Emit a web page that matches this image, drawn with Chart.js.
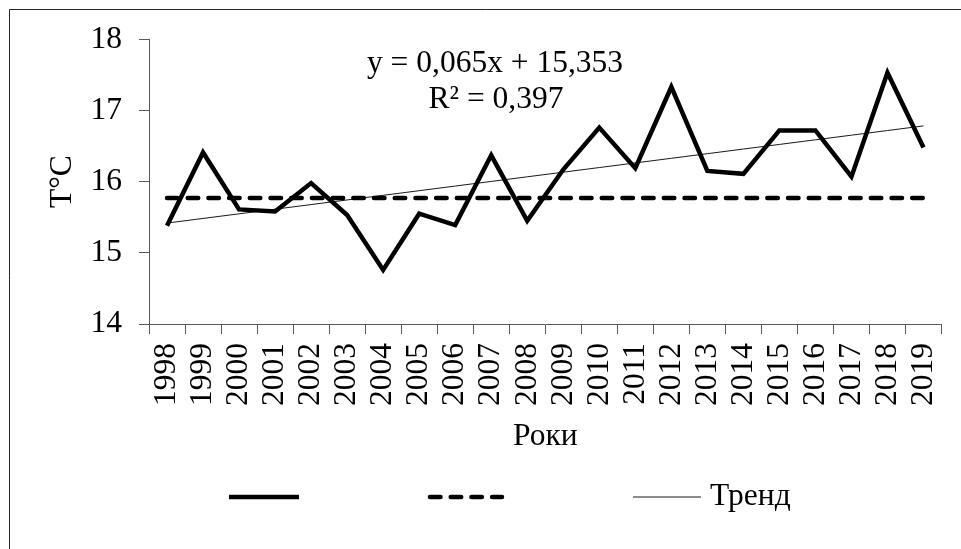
<!DOCTYPE html>
<html>
<head>
<meta charset="utf-8">
<script src="https://cdn.jsdelivr.net/npm/chart.js@4.4.1/dist/chart.umd.min.js"></script>
<style>
  html, body { margin: 0; padding: 0; background: #fff; }
  canvas { display: block; }
</style>
</head>
<body>
<canvas id="chart" width="961" height="549"></canvas>
<script>
// Annual mean air temperature, 1998–2019
const years = ['1998', '1999', '2000', '2001', '2002', '2003', '2004', '2005', '2006', '2007', '2008',
               '2009', '2010', '2011', '2012', '2013', '2014', '2015', '2016', '2017', '2018', '2019'];
const temperature = [15.38, 16.41, 15.61, 15.58, 15.98, 15.53, 14.76, 15.55, 15.39, 16.37, 15.45,
                     16.17, 16.76, 16.19, 17.33, 16.15, 16.11, 16.72, 16.72, 16.07, 17.53, 16.48];
// Climatic norm
const climateNorm = [15.77, 15.77, 15.77, 15.77, 15.77, 15.77, 15.77, 15.77, 15.77, 15.77, 15.77,
                     15.77, 15.77, 15.77, 15.77, 15.77, 15.77, 15.77, 15.77, 15.77, 15.77, 15.77];
// Linear trend coefficients (x = 1 for the first year)
const trendSlope = 0.065;
const trendIntercept = 15.353;
const trendR2 = 0.397;
const yMin = 14;
const yMax = 18;

const trend = years.map((_, i) => trendIntercept + trendSlope * (i + 1));
const fmt = (v, d) => v.toFixed(d).replace('.', ',');

const FONT = '"Liberation Serif", "Times New Roman", serif';
const AXIS = '#595959';
const SIZE = 31.5;

// White background and the frame lines of the chart box
const framePlugin = {
  id: 'frame',
  beforeDraw(chart) {
    const ctx = chart.ctx;
    ctx.save();
    ctx.fillStyle = '#fff';
    ctx.fillRect(0, 0, chart.width, chart.height);
    ctx.strokeStyle = '#262626';
    ctx.lineWidth = 1;
    ctx.beginPath();
    ctx.moveTo(9.5, chart.height);
    ctx.lineTo(9.5, 9.5);
    ctx.lineTo(chart.width, 9.5);
    ctx.stroke();
    ctx.restore();
  }
};

// Trend equation and the bottom legend
const notesPlugin = {
  id: 'notes',
  afterDraw(chart) {
    const ctx = chart.ctx;
    ctx.save();
    ctx.fillStyle = '#000';
    ctx.font = SIZE + 'px ' + FONT;
    ctx.textAlign = 'center';
    ctx.textBaseline = 'middle';
    ctx.fillText('y = ' + fmt(trendSlope, 3) + 'x + ' + fmt(trendIntercept, 3), 495, 64);
    ctx.fillText('R\u00B2 = ' + fmt(trendR2, 3), 496, 100);

    const rowY = 497;
    const spans = [[229, 299], [430, 502], [633, 701]];
    chart.data.datasets.forEach((ds, i) => {
      const [x0, x1] = spans[i];
      ctx.save();
      ctx.strokeStyle = ds.borderColor;
      ctx.lineWidth = ds.borderWidth;
      ctx.lineCap = ds.borderCapStyle || 'butt';
      ctx.setLineDash(ds.borderDash || []);
      ctx.beginPath();
      ctx.moveTo(x0, rowY);
      ctx.lineTo(x1, rowY);
      ctx.stroke();
      ctx.restore();
      if (ds.label) {
        ctx.textAlign = 'left';
        ctx.fillText(ds.label, x1 + 9, rowY);
      }
    });
    ctx.restore();
  }
};

new Chart(document.getElementById('chart'), {
  type: 'line',
  data: {
    labels: years,
    datasets: [
      {
        label: '',
        data: temperature,
        borderColor: '#000',
        borderWidth: 4.5,
        borderCapStyle: 'butt',
        pointRadius: 0,
        tension: 0,
        fill: false
      },
      {
        label: '',
        data: climateNorm,
        borderColor: '#000',
        borderWidth: 4.5,
        borderDash: [10.5, 10.2],
        borderCapStyle: 'round',
        pointRadius: 0,
        tension: 0,
        fill: false
      },
      {
        label: 'Тренд',
        data: trend,
        borderColor: '#1a1a1a',
        borderWidth: 1,
        pointRadius: 0,
        tension: 0,
        fill: false
      }
    ]
  },
  options: {
    responsive: false,
    animation: false,
    devicePixelRatio: 1,
    layout: { padding: { left: 0, right: 19.5, top: 39.3, bottom: 0 } },
    plugins: {
      legend: { display: false },
      tooltip: { enabled: false }
    },
    scales: {
      x: {
        type: 'category',
        offset: true,
        grid: {
          display: true,
          drawOnChartArea: false,
          offset: true,
          tickLength: 10,
          color: AXIS,
          tickColor: AXIS
        },
        border: { display: true, color: AXIS, width: 1 },
        ticks: {
          autoSkip: false,
          minRotation: 90,
          maxRotation: 90,
          padding: 9,
          color: '#000',
          font: { family: FONT, size: SIZE }
        },
        title: {
          display: true,
          text: 'Роки',
          color: '#000',
          font: { family: FONT, size: SIZE },
          padding: { top: 0, bottom: 93 }
        },
        afterFit(scale) {
          scale.height = 225;
          scale.paddingLeft = 0;
          scale.paddingRight = 0;
        }
      },
      y: {
        min: yMin,
        max: yMax,
        grid: {
          display: true,
          drawOnChartArea: false,
          tickLength: 10,
          color: AXIS,
          tickColor: AXIS
        },
        border: { display: true, color: AXIS, width: 1 },
        ticks: {
          stepSize: 1,
          padding: 17,
          color: '#000',
          font: { family: FONT, size: SIZE }
        },
        title: {
          display: true,
          text: 'T°C',
          color: '#000',
          font: { family: FONT, size: SIZE },
          padding: { top: 44, bottom: 0 }
        },
        afterFit(scale) {
          scale.width = 149;
          scale.paddingTop = 0;
          scale.paddingBottom = 0;
        }
      }
    }
  },
  plugins: [framePlugin, notesPlugin]
});
</script>
</body>
</html>
